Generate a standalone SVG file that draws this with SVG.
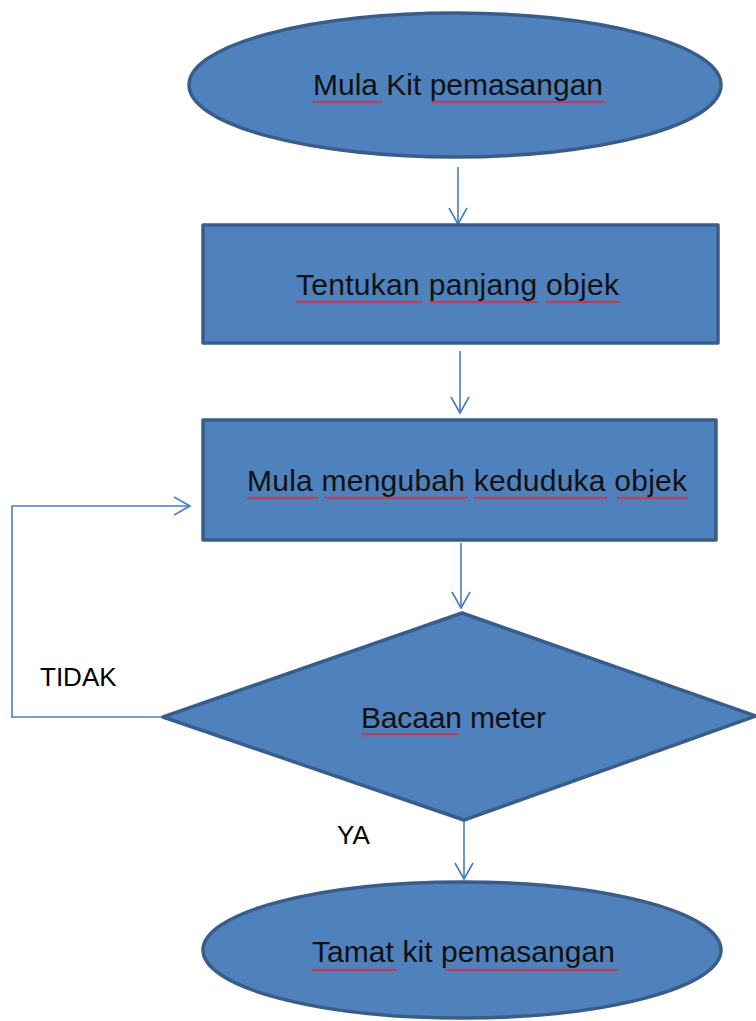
<svg xmlns="http://www.w3.org/2000/svg" width="756" height="1021" viewBox="0 0 756 1021">
<style>
.shape{fill:#4F81BD;stroke:#385D8A;stroke-width:3.5;stroke-linejoin:round}
.lbl{font-family:"Liberation Sans",Arial,sans-serif;font-size:30px;fill:#111}
.side{font-family:"Liberation Sans",Arial,sans-serif;font-size:26px;fill:#000}
.conn{fill:none;stroke:#4A7EBB;stroke-width:1.6}
.sq{fill:url(#squig)}
</style>
<defs>
<marker id="arr" viewBox="0 0 20 20" refX="18" refY="10" markerWidth="20" markerHeight="20" markerUnits="userSpaceOnUse" orient="auto">
<path d="M2,1 L18,10 L2,19" fill="none" stroke="#4A7EBB" stroke-width="1.6"/>
</marker>
<pattern id="squig" width="4" height="4" patternUnits="userSpaceOnUse">
<path d="M0,3 L2,1 L4,3" fill="none" stroke="#E8202A" stroke-width="1.1"/>
</pattern>
</defs>
<g id="connectors">
<line class="conn" x1="458" y1="167" x2="458" y2="224" marker-end="url(#arr)"/>
<line class="conn" x1="460" y1="351" x2="460" y2="413" marker-end="url(#arr)"/>
<line class="conn" x1="461" y1="543" x2="461" y2="608" marker-end="url(#arr)"/>
<line class="conn" x1="464" y1="821" x2="464" y2="879" marker-end="url(#arr)"/>
<polyline class="conn" points="162,717 12,717 12,506 190,506" marker-end="url(#arr)"/>
<text class="side" x="40" y="686">TIDAK</text>
<text class="side" x="337" y="844">YA</text>
</g>
<g id="start">
<ellipse class="shape" cx="455" cy="85" rx="266" ry="72"/>
<text class="lbl" x="313" y="95" textLength="290">Mula Kit pemasangan</text>
<rect class="sq" x="313" y="100" width="69" height="4"/>
<rect class="sq" x="432" y="100" width="173" height="4"/>
</g>
<g id="step1">
<rect class="shape" x="203" y="225" width="515" height="118"/>
<text class="lbl" x="296" y="295" textLength="323">Tentukan panjang objek</text>
<rect class="sq" x="296" y="300" width="126" height="4"/>
<rect class="sq" x="430" y="300" width="108" height="4"/>
<rect class="sq" x="546" y="300" width="74" height="4"/>
</g>
<g id="step2">
<rect class="shape" x="203" y="420" width="513" height="120"/>
<text class="lbl" x="247" y="491" textLength="440">Mula mengubah keduduka objek</text>
<rect class="sq" x="247" y="496" width="71" height="4"/>
<rect class="sq" x="325" y="496" width="142" height="4"/>
<rect class="sq" x="474" y="496" width="133" height="4"/>
<rect class="sq" x="617" y="496" width="71" height="4"/>
</g>
<g id="decision">
<polygon class="shape" points="462,613 756,716 464,820 163,717"/>
<text class="lbl" x="361" y="728" textLength="185">Bacaan meter</text>
<rect class="sq" x="362" y="733" width="96" height="4"/>
</g>
<g id="end">
<ellipse class="shape" cx="462" cy="950" rx="259" ry="68"/>
<text class="lbl" x="312" y="962" textLength="303">Tamat kit pemasangan</text>
<rect class="sq" x="312" y="967" width="85" height="4"/>
<rect class="sq" x="445" y="967" width="173" height="4"/>
</g>
</svg>
